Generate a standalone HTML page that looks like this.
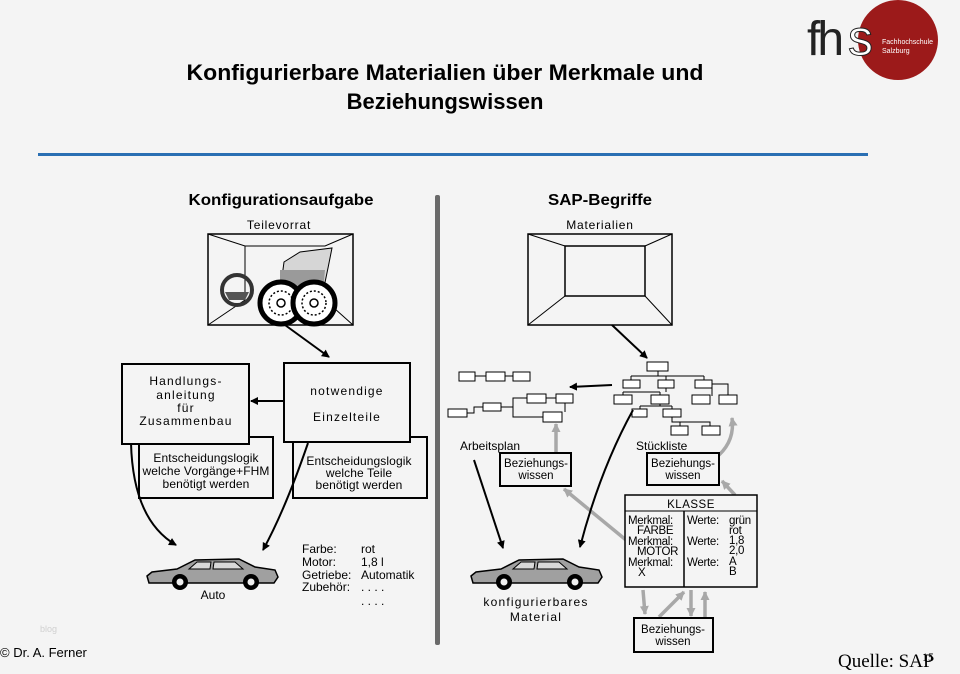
<!DOCTYPE html>
<html><head><meta charset="utf-8"><style>
html,body{margin:0;padding:0;background:#f4f4f4;}
svg{display:block;font-family:"Liberation Sans",sans-serif;}
</style></head><body>
<svg width="960" height="674" viewBox="0 0 960 674" xmlns="http://www.w3.org/2000/svg">
<defs>
<marker id="ab" markerWidth="8" markerHeight="8" refX="7" refY="4" orient="auto" markerUnits="userSpaceOnUse"><path d="M0,0 L8,4 L0,8 Z" fill="#000"/></marker>
<marker id="ag" markerWidth="9" markerHeight="9" refX="8" refY="4.5" orient="auto" markerUnits="userSpaceOnUse"><path d="M0,0 L9,4.5 L0,9 Z" fill="#a8a8a8"/></marker>
<g id="car">
<path d="M0,20 L5,16 L30,13 L48,4 L92,3 L108,11 L128,14 L131,21 L127,27 L2,27 Z" fill="#a0a0a0" stroke="#000" stroke-width="1.5"/>
<path d="M50,6 L64,6 L63,13 L42,13 Z M67,6 L88,6 L96,13 L66,13 Z" fill="#d8d8d8" stroke="#000" stroke-width="1"/>
<circle cx="33" cy="26" r="8" fill="#000"/><circle cx="33" cy="26" r="3.5" fill="#eee"/>
<circle cx="104" cy="26" r="8" fill="#000"/><circle cx="104" cy="26" r="3.5" fill="#eee"/>
</g>
</defs>
<rect width="960" height="674" fill="#f4f4f4"/>
<!-- logo -->
<circle cx="898" cy="40" r="40" fill="#9c1a1a"/>
<text x="807" y="55" font-size="48" fill="#222" letter-spacing="-3">fh</text>
<text x="848" y="55" font-size="50" fill="#fff" stroke="#222" stroke-width="1">s</text>
<text x="882" y="44" font-size="7" fill="#fff">Fachhochschule</text>
<text x="882" y="53" font-size="7" fill="#fff">Salzburg</text>
<!-- title -->
<text x="445" y="80" font-size="22" font-weight="bold" text-anchor="middle" textLength="517" lengthAdjust="spacingAndGlyphs">Konfigurierbare Materialien über Merkmale und</text>
<text x="445" y="109" font-size="22" font-weight="bold" text-anchor="middle">Beziehungswissen</text>
<rect x="38" y="153" width="830" height="3" fill="#2a6fb3"/>
<!-- divider -->
<rect x="435" y="195" width="5" height="450" rx="2" fill="#6a6a6a"/>
<!-- Left -->
<text x="281" y="205" font-size="16" font-weight="bold" text-anchor="middle" textLength="185" lengthAdjust="spacingAndGlyphs">Konfigurationsaufgabe</text>
<text x="279" y="229" font-size="12" text-anchor="middle" letter-spacing="0.8">Teilevorrat</text>
<rect x="208" y="234" width="145" height="91" fill="none" stroke="#000" stroke-width="1.5"/>
<path d="M208,234 L245,246 L325,246 L353,234 M245,246 L245,300 M208,325 L245,300 M325,300 L353,325" fill="none" stroke="#000" stroke-width="1"/>
<path d="M284,262 L300,252 L332,248 L328,268 L323,292 L280,292 Z" fill="#d6d6d6" stroke="#000" stroke-width="1"/>
<path d="M280,270 L325,270 L323,292 L280,292 Z" fill="#9a9a9a"/>
<circle cx="237" cy="290" r="15" fill="none" stroke="#333" stroke-width="4"/>
<path d="M225,292 L249,292 L245,300 L229,300 Z" fill="#555"/>
<circle cx="281" cy="303" r="21" fill="#fff" stroke="#000" stroke-width="5"/>
<circle cx="281" cy="303" r="12" fill="none" stroke="#000" stroke-width="1.5" stroke-dasharray="2 2"/>
<circle cx="281" cy="303" r="4" fill="none" stroke="#000" stroke-width="1.5"/>
<circle cx="314" cy="303" r="21" fill="#fff" stroke="#000" stroke-width="5"/>
<circle cx="314" cy="303" r="12" fill="none" stroke="#000" stroke-width="1.5" stroke-dasharray="2 2"/>
<circle cx="314" cy="303" r="4" fill="none" stroke="#000" stroke-width="1.5"/>
<line x1="285" y1="325" x2="329" y2="357" stroke="#000" stroke-width="2" marker-end="url(#ab)"/>
<rect x="139" y="437" width="134" height="61" fill="#f4f4f4" stroke="#000" stroke-width="2"/>
<rect x="293" y="437" width="134" height="61" fill="#f4f4f4" stroke="#000" stroke-width="2"/>
<rect x="122" y="364" width="127" height="80" fill="#f4f4f4" stroke="#000" stroke-width="2"/>
<rect x="284" y="363" width="126" height="79" fill="#f4f4f4" stroke="#000" stroke-width="2"/>
<g font-size="12" text-anchor="middle" letter-spacing="1.2">
<text x="186" y="385">Handlungs-</text><text x="186" y="399">anleitung</text><text x="186" y="412">für</text><text x="186" y="425">Zusammenbau</text>
<text x="347" y="395">notwendige</text><text x="347" y="421">Einzelteile</text>
</g>
<g font-size="12" text-anchor="middle" letter-spacing="0.1">
<text x="206" y="462">Entscheidungslogik</text><text x="206" y="475">welche Vorgänge+FHM</text><text x="206" y="488">benötigt werden</text>
<text x="359" y="465">Entscheidungslogik</text><text x="359" y="477">welche Teile</text><text x="359" y="489">benötigt werden</text>
</g>
<line x1="284" y1="401" x2="251" y2="401" stroke="#000" stroke-width="2" marker-end="url(#ab)"/>
<path d="M131,443 Q133,520 176,545" fill="none" stroke="#000" stroke-width="2" marker-end="url(#ab)"/>
<path d="M308,443 Q285,510 263,550" fill="none" stroke="#000" stroke-width="2" marker-end="url(#ab)"/>
<use href="#car" x="147" y="556"/>
<text x="213" y="599" font-size="12" text-anchor="middle">Auto</text>
<g font-size="12">
<text x="302" y="553">Farbe:</text><text x="361" y="553">rot</text>
<text x="302" y="566">Motor:</text><text x="361" y="566">1,8 l</text>
<text x="302" y="579">Getriebe:</text><text x="361" y="579">Automatik</text>
<text x="302" y="591">Zubehör:</text><text x="361" y="591">. . . .</text>
<text x="361" y="605">. . . .</text>
</g>
<!-- Right -->
<text x="600" y="205" font-size="16" font-weight="bold" text-anchor="middle" textLength="104" lengthAdjust="spacingAndGlyphs">SAP-Begriffe</text>
<text x="600" y="229" font-size="12" text-anchor="middle" letter-spacing="0.8">Materialien</text>
<rect x="528" y="234" width="144" height="91" fill="none" stroke="#000" stroke-width="1.5"/>
<rect x="565" y="246" width="80" height="50" fill="none" stroke="#000" stroke-width="1.5"/>
<path d="M528,234 L565,246 M672,234 L645,246 M528,325 L565,296 M672,325 L645,296" stroke="#000" stroke-width="1"/>
<line x1="612" y1="325" x2="647" y2="358" stroke="#000" stroke-width="2" marker-end="url(#ab)"/>
<!-- tree -->
<g fill="#fff" stroke="#000" stroke-width="1">
<path d="M658,370 V376 M631,376 H704 M631,376 V380 M666,376 V380 M704,376 V380 M666,388 V392 M704,384 H728 V396 M712,384 V396 M623,392 H660 M623,392 V396 M660,392 V396 M660,404 V406 M640,406 H672 M640,406 V409 M672,406 V409 M672,417 V422 H710 V426 M680,422 V426" fill="none"/>
<rect x="647" y="362" width="21" height="9"/>
<rect x="623" y="380" width="17" height="8"/><rect x="658" y="380" width="16" height="8"/><rect x="695" y="380" width="17" height="8"/>
<rect x="614" y="395" width="18" height="9"/><rect x="651" y="395" width="18" height="9"/><rect x="692" y="395" width="18" height="9"/><rect x="719" y="395" width="18" height="9"/>
<rect x="632" y="409" width="15" height="8"/><rect x="663" y="409" width="18" height="8"/>
<rect x="671" y="426" width="17" height="9"/><rect x="702" y="426" width="18" height="9"/>
<path d="M475,376 H486 M505,376 H513 M467,413 H474 V407 H483 M501,407 H513 V398 H527 M546,398 H556 M513,407 V417 H543 M565,403 V412" fill="none"/>
<rect x="459" y="372" width="16" height="9"/><rect x="486" y="372" width="19" height="9"/><rect x="513" y="372" width="17" height="9"/>
<rect x="527" y="394" width="19" height="9"/><rect x="556" y="394" width="17" height="9"/>
<rect x="483" y="403" width="18" height="8"/><rect x="448" y="409" width="19" height="8"/>
<rect x="543" y="412" width="19" height="10"/>
</g>
<line x1="612" y1="385" x2="570" y2="387" stroke="#000" stroke-width="2" marker-end="url(#ab)"/>
<text x="460" y="450" font-size="12">Arbeitsplan</text>
<text x="636" y="450" font-size="12">Stückliste</text>
<!-- grey arrows -->
<g stroke="#a8a8a8" stroke-width="3.5" fill="none" marker-end="url(#ag)">
<line x1="556" y1="453" x2="556" y2="424"/>
<path d="M719,455 Q735,440 732,418"/>
<line x1="735" y1="495" x2="722" y2="481"/>
<line x1="626" y1="540" x2="564" y2="489"/>
<line x1="643" y1="590" x2="645" y2="614"/>
<line x1="659" y1="617" x2="684" y2="592"/>
<line x1="691" y1="590" x2="691" y2="616"/>
<line x1="705" y1="618" x2="705" y2="592"/>
</g>
<g fill="#f4f4f4" stroke="#000" stroke-width="2">
<rect x="500" y="453" width="71" height="33"/>
<rect x="647" y="453" width="72" height="32"/>
<rect x="634" y="618" width="79" height="34"/>
<rect x="625" y="495" width="132" height="92" stroke-width="1.5"/>
</g>
<line x1="625" y1="511" x2="757" y2="511" stroke="#000" stroke-width="1"/>
<line x1="684" y1="511" x2="684" y2="587" stroke="#000" stroke-width="1.5"/>
<g font-size="11.5" text-anchor="middle">
<text x="536" y="467">Beziehungs-</text><text x="536" y="479">wissen</text>
<text x="683" y="467">Beziehungs-</text><text x="683" y="479">wissen</text>
<text x="673" y="633">Beziehungs-</text><text x="673" y="645">wissen</text>
<text x="691" y="508" letter-spacing="0.5">KLASSE</text>
</g>
<g font-size="11.5" letter-spacing="-0.3">
<text x="628" y="524">Merkmal:</text><text x="637" y="534">FARBE</text>
<text x="628" y="545">Merkmal:</text><text x="637" y="555">MOTOR</text>
<text x="628" y="566">Merkmal:</text><text x="638" y="576">X</text>
<text x="687" y="524">Werte:</text><text x="687" y="545">Werte:</text><text x="687" y="566">Werte:</text>
<text x="729" y="524">grün</text><text x="729" y="534">rot</text>
<text x="729" y="544">1,8</text><text x="729" y="554">2,0</text>
<text x="729" y="565">A</text><text x="729" y="575">B</text>
</g>
<line x1="474" y1="460" x2="503" y2="548" stroke="#000" stroke-width="2" marker-end="url(#ab)"/>
<path d="M633,410 Q600,470 580,547" fill="none" stroke="#000" stroke-width="2" marker-end="url(#ab)"/>
<use href="#car" x="471" y="556"/>
<text x="536" y="606" font-size="12" text-anchor="middle" letter-spacing="1.2">konfigurierbares</text>
<text x="536" y="621" font-size="12" text-anchor="middle" letter-spacing="1.2">Material</text>
<!-- footer -->
<text x="40" y="632" font-size="9" fill="#d0d0d0">blog</text>
<text x="0" y="657" font-size="13">© Dr. A. Ferner</text>
<text x="838" y="667" font-size="19" font-family="Liberation Serif,serif">Quelle: SAP</text>
<text x="922" y="661" font-size="12" font-family="Liberation Serif,serif">15</text>
</svg>
</body></html>
